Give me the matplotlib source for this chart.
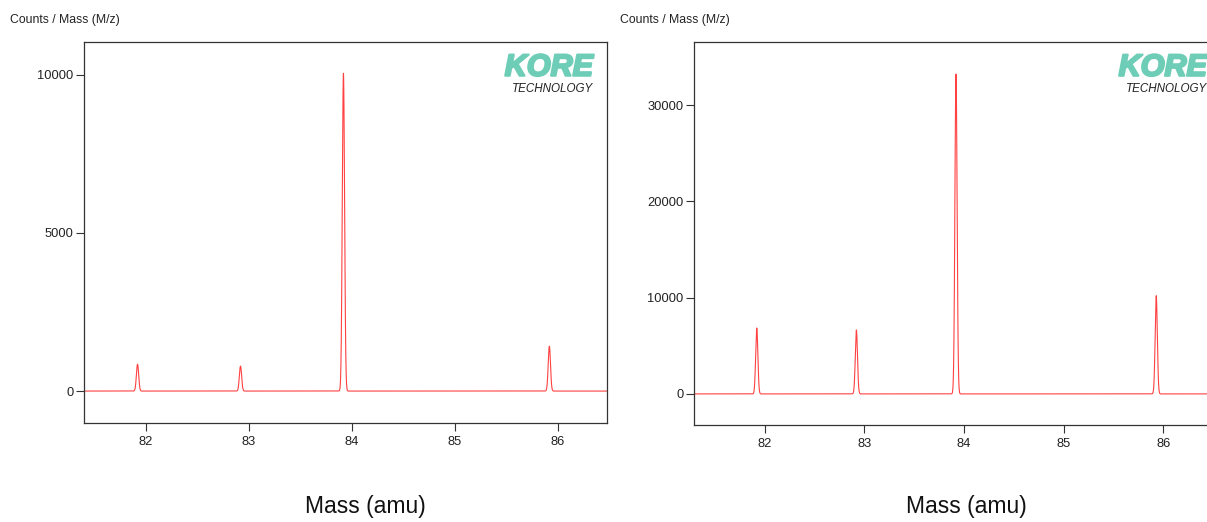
import numpy as np
import matplotlib.pyplot as plt
import matplotlib.patheffects as pe

plt.rcParams['font.family'] = ['Liberation Sans', 'DejaVu Sans']

# peak centres (amu) and heights (counts) for the two spectra
left_centers = [81.92, 82.92, 83.92, 85.92]
left_heights = [850, 790, 10050, 1420]
right_centers = [81.92, 82.92, 83.92, 85.93]
right_heights = [6850, 6650, 33250, 10200]
peak_sigma = 0.011

left_yticks = [0, 5000, 10000]
right_yticks = [0, 10000, 20000, 30000]
xticks = [82, 83, 84, 85, 86]


def spectrum(centers, heights, x):
    y = np.zeros_like(x)
    for c, h in zip(centers, heights):
        y += h * np.exp(-0.5 * ((x - c) / peak_sigma) ** 2)
    return y


W, H = 1207, 522
fig = plt.figure(figsize=(W / 100, H / 100), dpi=100)


def make_panel(rect, centers, heights, xlim, ylim, yticks, title_x, xlabel_x):
    ax = fig.add_axes(rect)
    x = np.linspace(xlim[0], xlim[1], 6000)
    ax.plot(x, spectrum(centers, heights, x), color='#ff2020', lw=0.8, alpha=0.85)
    ax.set_xlim(*xlim)
    ax.set_ylim(*ylim)
    ax.set_xticks(xticks)
    ax.set_yticks(yticks)
    ax.tick_params(direction='out', length=6, width=0.8, labelsize=9.3,
                   colors='#333333', labelcolor='#222222', pad=1.5)
    ax.tick_params(axis='x', pad=3.5)
    for s in ax.spines.values():
        s.set_color('#333333')
        s.set_linewidth(0.9)
    # logo in the upper right corner
    ax.text(0.973, 0.972, 'KORE', transform=ax.transAxes, ha='right', va='top',
            fontsize=22, fontweight='bold', style='italic', color='#6ecdb6',
            path_effects=[pe.withStroke(linewidth=1.6, foreground='#6ecdb6')])
    ax.text(0.973, 0.893, 'TECHNOLOGY', transform=ax.transAxes, ha='right', va='top',
            fontsize=8.4, style='italic', color='#222222')
    fig.text(title_x / W, 1 - 20 / H, 'Counts / Mass (M/z)', ha='left', va='center',
             fontsize=8.8, color='#222222')
    fig.text(xlabel_x / W, 1 - 506 / H, 'Mass (amu)', ha='center', va='center',
             fontsize=16.5, color='#111111')
    return ax


make_panel([84 / W, 1 - 423 / H, (607 - 84) / W, (423 - 42) / H],
           left_centers, left_heights, (81.40, 86.48), (-1010, 11040),
           left_yticks, 10, 365)

make_panel([694 / W, 1 - 425 / H, (1221 - 694) / W, (425 - 42) / H],
           right_centers, right_heights, (81.29, 86.58), (-3230, 36560),
           right_yticks, 620, 966)

fig.savefig('out.png', dpi=100)
